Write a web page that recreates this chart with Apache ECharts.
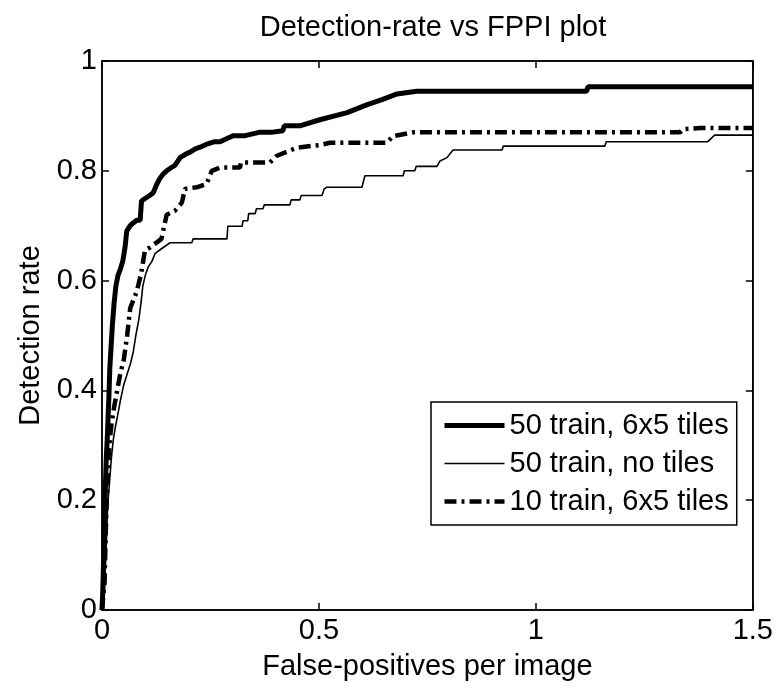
<!DOCTYPE html>
<html>
<head>
<meta charset="utf-8">
<script src="https://cdn.jsdelivr.net/npm/echarts@6/dist/echarts.min.js"></script>
<style>html,body{margin:0;padding:0;background:#fff}#c{width:776px;height:687px}</style>
</head>
<body>
<div id="c"></div>
<script>
var seriesNames = ['50 train, 6x5 tiles', '50 train, no tiles', '10 train, 6x5 tiles'];
var xTicks = [0, 0.5, 1, 1.5];
var yTicks = [0, 0.2, 0.4, 0.6, 0.8, 1];

var fppiA = [0, 0.002, 0.004, 0.006, 0.008, 0.010, 0.012, 0.014, 0.016, 0.018, 0.021, 0.024, 0.028, 0.032, 0.037, 0.042, 0.048, 0.053, 0.057, 0.065, 0.072, 0.080, 0.088, 0.091, 0.100, 0.110, 0.118, 0.126, 0.134, 0.142, 0.149, 0.160, 0.168, 0.175, 0.180, 0.192, 0.203, 0.215, 0.226, 0.240, 0.260, 0.272, 0.302, 0.330, 0.362, 0.390, 0.417, 0.420, 0.456, 0.502, 0.565, 0.610, 0.647, 0.680, 0.725, 1.117, 1.120, 1.5];
var rateA = [0, 0.04, 0.10, 0.17, 0.23, 0.28, 0.31, 0.35, 0.39, 0.44, 0.48, 0.52, 0.56, 0.59, 0.61, 0.62, 0.636, 0.66, 0.69, 0.70, 0.705, 0.71, 0.71, 0.745, 0.75, 0.755, 0.76, 0.775, 0.787, 0.795, 0.80, 0.806, 0.81, 0.818, 0.824, 0.83, 0.834, 0.84, 0.843, 0.848, 0.853, 0.853, 0.864, 0.864, 0.87, 0.87, 0.873, 0.882, 0.882, 0.893, 0.906, 0.92, 0.93, 0.94, 0.945, 0.945, 0.953, 0.953];

var fppiB = [0, 0.005, 0.008, 0.010, 0.012, 0.014, 0.018, 0.022, 0.026, 0.030, 0.035, 0.042, 0.050, 0.058, 0.066, 0.072, 0.078, 0.085, 0.090, 0.094, 0.100, 0.106, 0.115, 0.122, 0.137, 0.157, 0.207, 0.210, 0.288, 0.290, 0.323, 0.325, 0.336, 0.338, 0.353, 0.356, 0.371, 0.374, 0.433, 0.436, 0.456, 0.459, 0.507, 0.512, 0.518, 0.599, 0.606, 0.694, 0.697, 0.721, 0.724, 0.772, 0.779, 0.795, 0.809, 0.922, 0.925, 1.159, 1.162, 1.396, 1.412, 1.5];
var rateB = [0, 0.03, 0.08, 0.12, 0.17, 0.20, 0.24, 0.28, 0.31, 0.33, 0.35, 0.38, 0.41, 0.43, 0.45, 0.47, 0.50, 0.53, 0.56, 0.59, 0.61, 0.624, 0.635, 0.649, 0.658, 0.669, 0.669, 0.676, 0.676, 0.699, 0.699, 0.709, 0.709, 0.722, 0.722, 0.731, 0.731, 0.738, 0.738, 0.747, 0.747, 0.755, 0.755, 0.767, 0.77, 0.77, 0.791, 0.791, 0.80, 0.80, 0.808, 0.808, 0.818, 0.824, 0.838, 0.838, 0.845, 0.845, 0.853, 0.853, 0.865, 0.865];

var fppiC = [0, 0.006, 0.008, 0.010, 0.012, 0.015, 0.018, 0.022, 0.028, 0.035, 0.042, 0.050, 0.058, 0.065, 0.080, 0.090, 0.099, 0.110, 0.137, 0.149, 0.168, 0.184, 0.191, 0.218, 0.241, 0.253, 0.272, 0.318, 0.320, 0.387, 0.402, 0.449, 0.502, 0.525, 0.657, 0.670, 0.717, 1.332, 1.339, 1.378, 1.5];
var rateC = [0, 0.05, 0.12, 0.18, 0.22, 0.27, 0.31, 0.34, 0.37, 0.40, 0.43, 0.455, 0.50, 0.55, 0.58, 0.612, 0.655, 0.66, 0.676, 0.72, 0.727, 0.742, 0.767, 0.77, 0.776, 0.80, 0.806, 0.806, 0.815, 0.815, 0.827, 0.842, 0.847, 0.851, 0.851, 0.863, 0.87, 0.87, 0.876, 0.878, 0.878];

function pairs(xs, ys) { return xs.map(function (x, i) { return [x, ys[i]]; }); }

var FONT = "'Liberation Sans', Arial, Helvetica, sans-serif";
var FS = 29;
var chart = echarts.init(document.getElementById('c'), null, { renderer: 'canvas' });

var tickLab = function (v) { return String(v); };
var lineBlack = { color: '#000', width: 1.5 };
chart.setOption({
  animation: false,
  backgroundColor: '#fff',
  textStyle: { fontFamily: FONT, color: '#000' },
  title: {
    text: 'Detection-rate vs FPPI plot',
    left: 428, top: 8, textAlign: 'center',
    textStyle: { fontFamily: FONT, fontSize: FS, fontWeight: 'normal', color: '#000' }
  },
  grid: { left: 102, right: 23, top: 61, bottom: 77, show: true, borderColor: '#000', borderWidth: 1.5, containLabel: false },
  legend: {
    orient: 'vertical', left: 431, top: 402,
    data: seriesNames,
    itemWidth: 60, itemHeight: 14, itemGap: 7,
    padding: [8, 8, 8, 11],
    borderColor: '#000', borderWidth: 1.5, backgroundColor: '#fff',
    textStyle: { fontFamily: FONT, fontSize: FS, color: '#000', lineHeight: 31 },
    itemStyle: { opacity: 0, borderWidth: 0 },
    lineStyle: { width: 'inherit', type: 'inherit', cap: 'butt', opacity: 1 },
    selectedMode: false
  },
  xAxis: [{
    type: 'value', min: 0, max: 1.5, interval: 0.5,
    name: 'False-positives per image', nameLocation: 'middle', nameGap: 42,
    nameTextStyle: { fontFamily: FONT, fontSize: FS, color: '#000' },
    axisLine: { show: true, onZero: false, lineStyle: lineBlack },
    axisTick: { show: true, inside: true, length: 7, lineStyle: lineBlack },
    axisLabel: { fontFamily: FONT, fontSize: FS, color: '#000', margin: 6, formatter: tickLab },
    splitLine: { show: false }
  }, {
    type: 'value', min: 0, max: 1.5, interval: 0.5, position: 'top',
    axisLine: { show: true, onZero: false, lineStyle: lineBlack },
    axisTick: { show: true, inside: true, length: 7, lineStyle: lineBlack },
    axisLabel: { show: false }, splitLine: { show: false }
  }],
  yAxis: [{
    type: 'value', min: 0, max: 1, interval: 0.2,
    name: 'Detection rate', nameLocation: 'middle', nameGap: 57, nameRotate: 90,
    nameTextStyle: { fontFamily: FONT, fontSize: FS, color: '#000' },
    axisLine: { show: true, onZero: false, lineStyle: lineBlack },
    axisTick: { show: true, inside: true, length: 7, lineStyle: lineBlack },
    axisLabel: { fontFamily: FONT, fontSize: FS, color: '#000', margin: 5, formatter: tickLab },
    splitLine: { show: false }
  }, {
    type: 'value', min: 0, max: 1, interval: 0.2, position: 'right',
    axisLine: { show: true, onZero: false, lineStyle: lineBlack },
    axisTick: { show: true, inside: true, length: 7, lineStyle: lineBlack },
    axisLabel: { show: false }, splitLine: { show: false }
  }],
  series: [{
    name: seriesNames[0], type: 'line', data: pairs(fppiA, rateA), symbol: 'none',
    color: '#000', lineStyle: { color: '#000', width: 5 }, z: 3
  }, {
    name: seriesNames[1], type: 'line', data: pairs(fppiB, rateB), symbol: 'none',
    color: '#000', lineStyle: { color: '#000', width: 1.6 }, z: 3
  }, {
    name: seriesNames[2], type: 'line', data: pairs(fppiC, rateC), symbol: 'none',
    color: '#000', lineStyle: { color: '#000', width: 4.5, type: [12, 5, 3, 5], cap: 'butt' }, z: 3
  }]
});
</script>
</body>
</html>
